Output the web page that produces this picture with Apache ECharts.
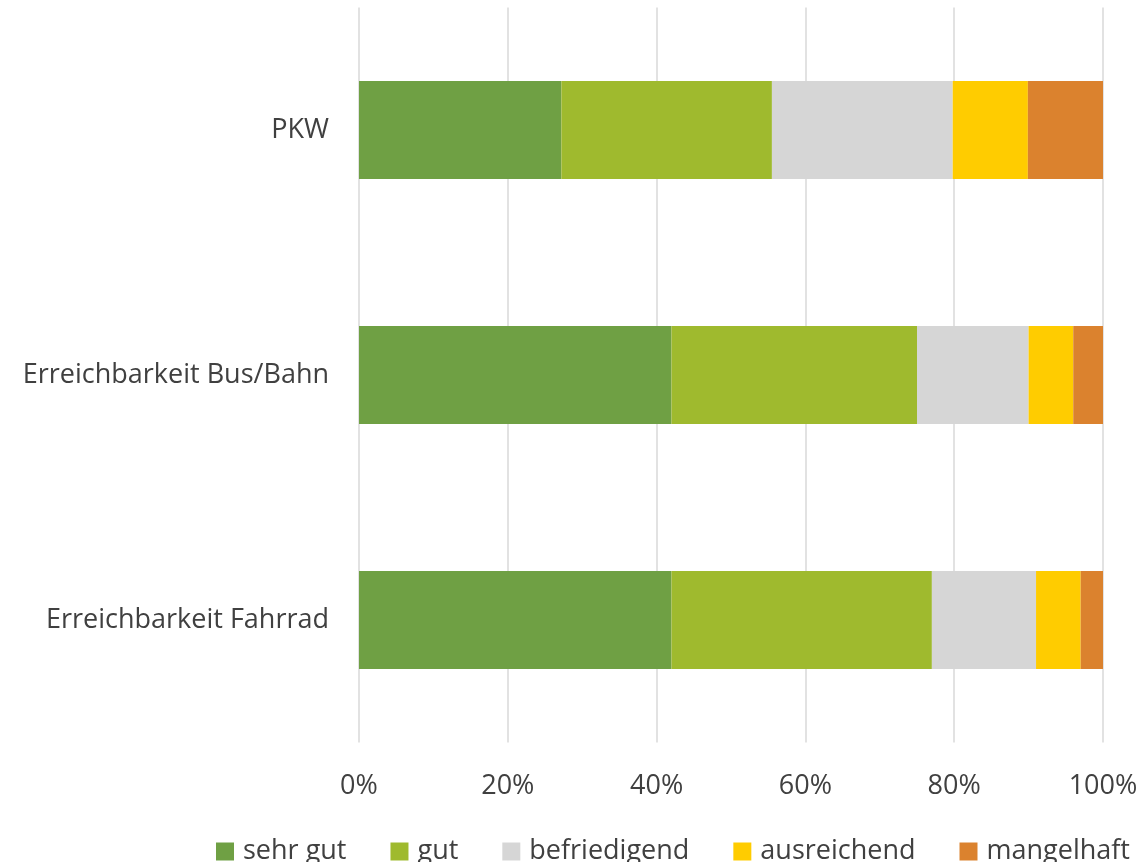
<!DOCTYPE html>
<html>
<head>
<meta charset="utf-8">
<script src="https://cdn.jsdelivr.net/npm/echarts@6/dist/echarts.min.js"></script>
<style>html,body{margin:0;padding:0;background:#fff}#c{width:1142px;height:862px}</style>
</head>
<body>
<div id="c"></div>
<script>
const categories = ['PKW', 'Erreichbarkeit Bus/Bahn', 'Erreichbarkeit Fahrrad'];
const seriesNames = ['sehr gut', 'gut', 'befriedigend', 'ausreichend', 'mangelhaft'];
const sehrGut = [27.2, 42, 42];
const gut = [28.3, 33, 35];
const befriedigend = [24.3, 15, 14];
const ausreichend = [10.1, 6, 6];
const mangelhaft = [10.1, 4, 3];
const xTicks = [0, 20, 40, 60, 80, 100];
const colors = ['#6FA044', '#9FBA2E', '#D6D6D6', '#FFCC00', '#DB822E'];
const values = [sehrGut, gut, befriedigend, ausreichend, mangelhaft];

const font = 'Open Sans';
const chart = echarts.init(document.getElementById('c'));
chart.setOption({
  animation: false,
  textStyle: { fontFamily: font },
  grid: { left: 359, right: 39, top: 7.5, bottom: 119.5, containLabel: false },
  xAxis: {
    type: 'value', min: xTicks[0], max: xTicks[xTicks.length - 1], interval: 20,
    axisLine: { show: false }, axisTick: { show: false },
    splitLine: { show: true, lineStyle: { color: '#D9D9D9', width: 1.5 } },
    axisLabel: { formatter: v => v + '%', color: '#404040', fontSize: 27, fontFamily: font, margin: 30 }
  },
  yAxis: {
    type: 'category', data: categories, inverse: true,
    axisLine: { show: false }, axisTick: { show: false },
    axisLabel: { color: '#404040', fontSize: 27, fontFamily: font, margin: 30 }
  },
  legend: {
    top: 833, left: 211, padding: 5, itemWidth: 18, itemHeight: 18, itemGap: 44,
    icon: 'rect',
    textStyle: { color: '#404040', fontSize: 27, fontFamily: font, padding: [0, 0, 0, 4] },
    data: seriesNames
  },
  series: seriesNames.map((n, i) => ({
    name: n, type: 'bar', stack: 'total', data: values[i], barWidth: '40%',
    itemStyle: { color: colors[i] }
  }))
});
</script>
</body>
</html>
